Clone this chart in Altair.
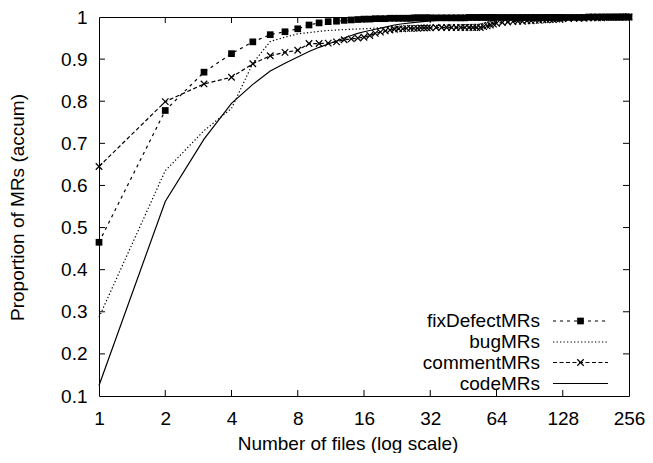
import altair as alt
import pandas as pd

# ---------------- data ----------------
X = [1, 2, 3, 4, 5, 6, 7, 8, 9, 10, 11, 12, 13, 14, 15, 16, 17, 18, 19, 20,
     21, 22, 23, 24, 25, 26, 27, 28, 29, 30, 31, 32,
     34, 36, 38, 40, 42, 44, 46, 48, 50, 52, 54, 56, 58, 60, 62, 64,
     68, 72, 76, 80, 84, 88, 92, 96, 100, 104, 108, 112, 116, 120, 124, 128,
     136, 144, 152, 160, 168, 176, 184, 192, 200, 208, 216, 224, 232, 240, 248, 256]

FIX_DEFECT = [0.465, 0.778, 0.869, 0.913, 0.941, 0.958, 0.965, 0.972, 0.981, 0.986,
              0.989, 0.990, 0.992, 0.993, 0.994, 0.995, 0.995, 0.996, 0.996, 0.996,
              0.997, 0.997, 0.997, 0.997, 0.997, 0.997, 0.998, 0.998, 0.998, 0.998,
              0.998, 0.998,
              0.998, 0.998, 0.998, 0.998, 0.998, 0.998, 0.998, 0.999, 0.999, 0.999,
              0.999, 0.999, 0.999, 0.999, 0.999, 0.999,
              0.999, 0.999, 0.999, 0.999, 0.999, 0.999, 0.999, 0.999, 0.999, 0.999,
              0.999, 0.999, 0.999, 0.999, 0.999, 0.999,
              0.999, 0.999, 0.999, 0.999, 1.0, 1.0, 1.0, 1.0, 1.0, 1.0,
              1.0, 1.0, 1.0, 1.0, 1.0, 1.0]

COMMENT = [0.645, 0.799, 0.841, 0.857, 0.889, 0.908, 0.916, 0.921, 0.937, 0.937,
           0.938, 0.941, 0.946, 0.948, 0.950, 0.952, 0.956, 0.961, 0.964, 0.967,
           0.969, 0.971, 0.972, 0.972, 0.973, 0.973, 0.973, 0.973, 0.974, 0.974,
           0.974, 0.974,
           0.975, 0.975, 0.975, 0.975, 0.975, 0.975, 0.975, 0.975, 0.975, 0.975,
           0.975, 0.977, 0.979, 0.981, 0.983, 0.985,
           0.987, 0.988, 0.989, 0.990, 0.990, 0.991, 0.991, 0.992, 0.992, 0.993,
           0.993, 0.994, 0.994, 0.995, 0.995, 0.996,
           0.996, 0.997, 0.997, 0.997, 0.998, 0.998, 0.998, 0.998, 0.999, 0.999,
           0.999, 0.999, 0.999, 1.0, 1.0, 1.0]

BUG_X = [1, 2, 3, 4, 5, 6, 7, 8, 9, 10, 11, 12, 14, 16, 20, 24, 28, 32, 40, 48,
         54, 60, 64, 80, 96, 128, 192, 256]
BUG = [0.287, 0.635, 0.730, 0.783, 0.890, 0.942, 0.952, 0.960, 0.963, 0.966,
       0.968, 0.969, 0.971, 0.972, 0.975, 0.977, 0.979, 0.980, 0.981, 0.982,
       0.983, 0.990, 0.992, 0.995, 0.997, 0.998, 0.999, 1.0]

CODE_X = [1, 2, 3, 4, 5, 6, 7, 8, 9, 10, 11, 12, 13, 14, 15, 16, 18, 20, 22, 24,
          28, 32, 40, 48, 64, 128, 256]
CODE = [0.125, 0.562, 0.710, 0.795, 0.840, 0.872, 0.890, 0.905, 0.918, 0.928,
        0.936, 0.943, 0.950, 0.956, 0.961, 0.965, 0.971, 0.976, 0.981, 0.984,
        0.988, 0.991, 0.994, 0.996, 0.998, 0.999, 1.0]

X_TICKS = [1, 2, 4, 8, 16, 32, 64, 128, 256]
X_INNER_TICKS = [2, 4, 8, 16, 32, 64, 128]
Y_TICKS = [0.1, 0.2, 0.3, 0.4, 0.5, 0.6, 0.7, 0.8, 0.9, 1.0]
Y_INNER_TICKS = [0.2, 0.3, 0.4, 0.5, 0.6, 0.7, 0.8, 0.9]

SERIES = ["fixDefectMRs", "bugMRs", "commentMRs", "codeMRs"]
X_TITLE = "Number of files (log scale)"
Y_TITLE = "Proportion of MRs (accum)"

# ---------------- styling ----------------
FONT = "Liberation Sans"
FS = 19
W, H = 530, 379
PAD_L, PAD_T, PAD_R, PAD_B = 91, 9, 16, 57
LW = 1.2

xscale = alt.Scale(type="log", base=2, domain=[1, 256], nice=False)
yscale = alt.Scale(domain=[0.1, 1.0], nice=False, zero=False)

x_axis = alt.Axis(values=X_TICKS, format="d", title=X_TITLE, grid=False, domain=False,
                  ticks=False, tickSize=0, labelPadding=13.5, labelFont=FONT,
                  labelFontSize=FS, labelColor="black", labelFlush=False,
                  labelOverlap=False, titleFont=FONT, titleFontSize=FS,
                  titleFontWeight="normal", titleColor="black", titleX=248.5,
                  titleY=53, titleBaseline="alphabetic", titleAlign="center")
y_axis = alt.Axis(values=Y_TICKS, format=".1~f", title=Y_TITLE, grid=False, domain=False,
                  ticks=False, tickSize=0, labelPadding=12, labelFont=FONT,
                  labelFontSize=FS, labelColor="black", labelFlush=False,
                  labelOverlap=False, titleFont=FONT, titleFontSize=FS,
                  titleFontWeight="normal", titleColor="black", titleX=-81.5,
                  titleY=190, titleAngle=270, titleBaseline="middle",
                  titleAlign="center")

XE = alt.X("x:Q", scale=xscale, axis=x_axis)
YE = alt.Y("y:Q", scale=yscale, axis=y_axis)

fix_df = pd.DataFrame({"x": X, "y": FIX_DEFECT})
com_df = pd.DataFrame({"x": X, "y": COMMENT})
bug_df = pd.DataFrame({"x": BUG_X, "y": BUG})
code_df = pd.DataFrame({"x": CODE_X, "y": CODE})

FIX_DASH = [3, 4]
BUG_DASH = [1.3, 2.2]
COM_DASH = [4, 2.5]
CROSS = "M-1,-1L1,1M-1,1L1,-1"

code_line = alt.Chart(code_df).mark_line(color="black", strokeWidth=LW, clip=False).encode(x=XE, y=YE)
bug_line = alt.Chart(bug_df).mark_line(color="black", strokeWidth=LW, strokeDash=BUG_DASH,
                                        clip=False).encode(x=XE, y=YE)
com_line = alt.Chart(com_df).mark_line(color="black", strokeWidth=LW, strokeDash=COM_DASH,
                                        clip=False).encode(x=XE, y=YE)
com_pts = alt.Chart(com_df).mark_point(shape=CROSS, filled=False, size=42, color="black",
                                        strokeWidth=1.2, opacity=1, clip=False).encode(x=XE, y=YE)
fix_line = alt.Chart(fix_df).mark_line(color="black", strokeWidth=LW, strokeDash=FIX_DASH,
                                        clip=False).encode(x=XE, y=YE)
fix_pts = alt.Chart(fix_df).mark_point(shape="square", filled=True, size=45, color="black",
                                        opacity=1, clip=False).encode(x=XE, y=YE)

# inward ticks (gnuplot style), mirrored on all sides
xt = pd.DataFrame({"x": X_INNER_TICKS})
yt = pd.DataFrame({"y": Y_INNER_TICKS})
tick_b = alt.Chart(xt).mark_rule(color="black", strokeWidth=1).encode(
    x=alt.X("x:Q", scale=xscale, axis=x_axis), y=alt.value(H), y2=alt.value(H - 6))
tick_t = alt.Chart(xt).mark_rule(color="black", strokeWidth=1).encode(
    x=alt.X("x:Q", scale=xscale, axis=x_axis), y=alt.value(0), y2=alt.value(6))
tick_l = alt.Chart(yt).mark_rule(color="black", strokeWidth=1).encode(
    y=alt.Y("y:Q", scale=yscale, axis=y_axis), x=alt.value(0), x2=alt.value(6))
tick_r = alt.Chart(yt).mark_rule(color="black", strokeWidth=1).encode(
    y=alt.Y("y:Q", scale=yscale, axis=y_axis), x=alt.value(W), x2=alt.value(W - 6))

# legend (key inside plot, bottom right, labels to the left of samples)
LEG_TX = 441
LEG_X1, LEG_X2, LEG_XM = 454, 509, 481.5
LEG_Y = [304, 325, 345.5, 366.5]
DASHES = [FIX_DASH, BUG_DASH, COM_DASH, None]
legend_layers = []
for i, name in enumerate(SERIES):
    d = pd.DataFrame({"t": [name]})
    legend_layers.append(
        alt.Chart(d).mark_text(align="right", baseline="middle", font=FONT, fontSize=FS,
                               color="black").encode(
            x=alt.value(LEG_TX), y=alt.value(LEG_Y[i]), text="t:N"))
    kw = dict(color="black", strokeWidth=LW)
    if DASHES[i] is not None:
        kw["strokeDash"] = DASHES[i]
    legend_layers.append(
        alt.Chart(d).mark_rule(**kw).encode(
            x=alt.value(LEG_X1), x2=alt.value(LEG_X2), y=alt.value(LEG_Y[i])))
legend_layers.append(
    alt.Chart(pd.DataFrame({"t": [SERIES[0]]})).mark_point(
        shape="square", filled=True, size=45, color="black", opacity=1).encode(
        x=alt.value(LEG_XM), y=alt.value(LEG_Y[0])))
legend_layers.append(
    alt.Chart(pd.DataFrame({"t": [SERIES[2]]})).mark_point(
        shape=CROSS, filled=False, size=42, color="black", strokeWidth=1.2, opacity=1).encode(
        x=alt.value(LEG_XM), y=alt.value(LEG_Y[2])))

chart = alt.layer(
    tick_b, tick_t, tick_l, tick_r,
    code_line, bug_line, com_line, com_pts, fix_line, fix_pts,
    *legend_layers
).properties(
    width=W, height=H,
    autosize=alt.AutoSizeParams(type="none"),
    padding={"left": PAD_L, "top": PAD_T, "right": PAD_R, "bottom": PAD_B},
    background="white",
).configure_view(stroke="black", strokeWidth=1)

chart.save("out.html", embed_options={"renderer": "svg", "actions": False})
